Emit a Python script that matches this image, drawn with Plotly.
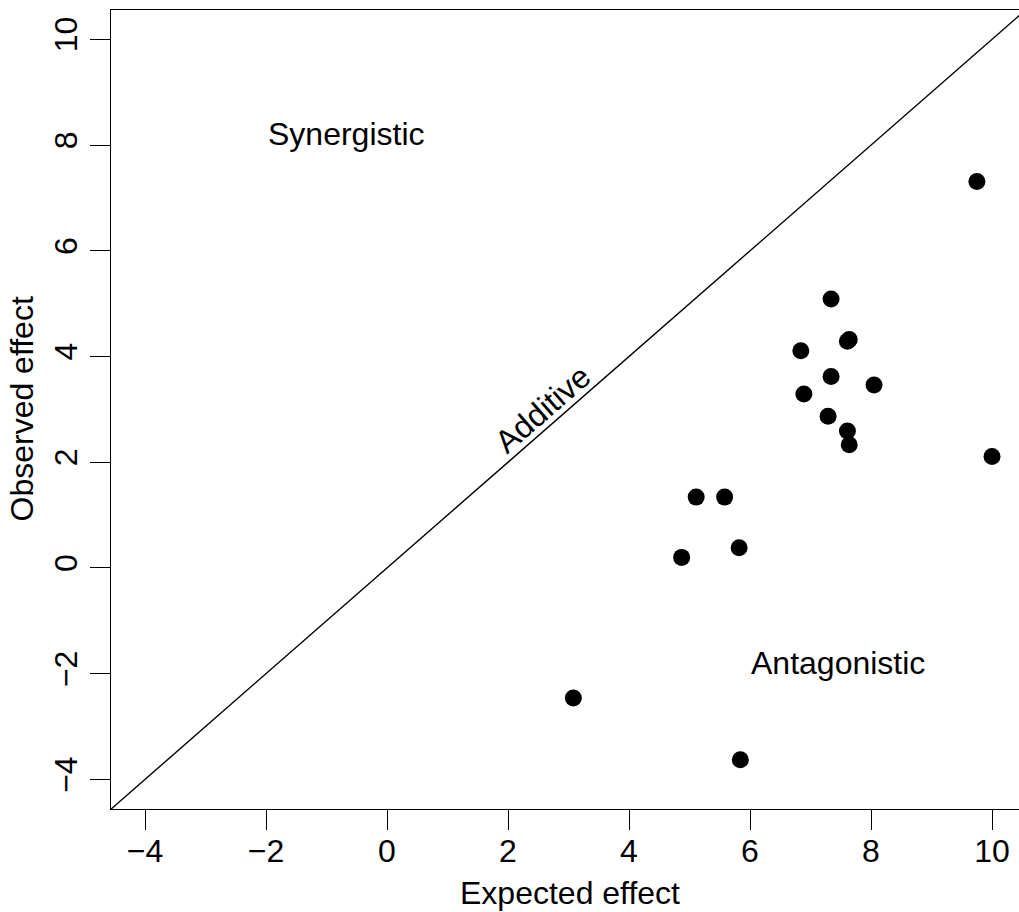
import plotly.graph_objects as go

# Data
expected = [9.75, 7.34, 7.61, 7.64, 6.84, 7.34, 8.05, 6.89, 7.29, 7.61, 7.64, 10.0,
            5.11, 5.58, 4.87, 5.82, 3.08, 5.84]
observed = [7.31, 5.09, 4.29, 4.32, 4.11, 3.62, 3.46, 3.29, 2.87, 2.59, 2.33, 2.11,
            1.34, 1.34, 0.20, 0.38, -2.46, -3.63]

additive_x = [-5, 11]
additive_y = [-5, 11]

tick_vals = [-4, -2, 0, 2, 4, 6, 8, 10]
tick_text = ["\u22124", "\u22122", "0", "2", "4", "6", "8", "10"]

region_labels = ["Synergistic", "Antagonistic"]
region_x = [-0.67, 7.46]
region_y = [8.21, -1.79]

FONT = "Liberation Sans, Arial, Helvetica, sans-serif"
FS = 32

fig = go.Figure()
fig.add_trace(go.Scatter(x=additive_x, y=additive_y, mode="lines",
                         line=dict(color="black", width=1.4), hoverinfo="skip",
                         showlegend=False))
fig.add_trace(go.Scatter(x=expected, y=observed, mode="markers",
                         marker=dict(color="black", size=17, line=dict(width=0)),
                         showlegend=False))

for t, x, y in zip(region_labels, region_x, region_y):
    fig.add_annotation(x=x, y=y, text=t, showarrow=False, xref="x", yref="y",
                       font=dict(family=FONT, size=FS, color="black"),
                       xanchor="center", yanchor="middle")

fig.add_annotation(x=2.58, y=3.0, text="Additive", showarrow=False, xref="x", yref="y",
                   textangle=-41, font=dict(family=FONT, size=FS, color="black"),
                   xanchor="center", yanchor="middle")

# axis titles
fig.add_annotation(x=(570 - 111) / 908, y=0, xref="paper", yref="paper",
                   text="Expected effect", showarrow=False, yanchor="middle",
                   yshift=-(893 - 809),
                   font=dict(family=FONT, size=FS, color="black"))
fig.add_annotation(x=0, y=0.5, xref="paper", yref="paper",
                   text="Observed effect", showarrow=False, textangle=-90,
                   xanchor="center", xshift=-(111 - 21),
                   font=dict(family=FONT, size=FS, color="black"))

fig.update_xaxes(range=[-4.562, 10.446], tickvals=tick_vals, ticktext=tick_text,
                 ticks="outside", ticklen=20, tickwidth=1.4, tickcolor="black",
                 showline=True, linecolor="black", linewidth=1.4, mirror=True,
                 showgrid=False, zeroline=False, ticklabelstandoff=-7,
                 tickfont=dict(family=FONT, size=FS, color="black"))
fig.update_yaxes(range=[-4.56, 10.555], tickvals=tick_vals, ticktext=tick_text,
                 ticks="outside", ticklen=20, tickwidth=1.4, tickcolor="black",
                 showline=True, linecolor="black", linewidth=1.4, mirror=False,
                 showgrid=False, zeroline=False, tickangle=-90,
                 tickfont=dict(family=FONT, size=FS, color="black"))

fig.update_layout(width=1019, height=912,
                  margin=dict(l=111, r=0, t=10, b=103, pad=0),
                  plot_bgcolor="white", paper_bgcolor="white",
                  showlegend=False)

fig.write_html("out.html", config={"displayModeBar": False},
               post_script="document.body.style.margin='0';"
                           "document.body.style.overflow='hidden';")
